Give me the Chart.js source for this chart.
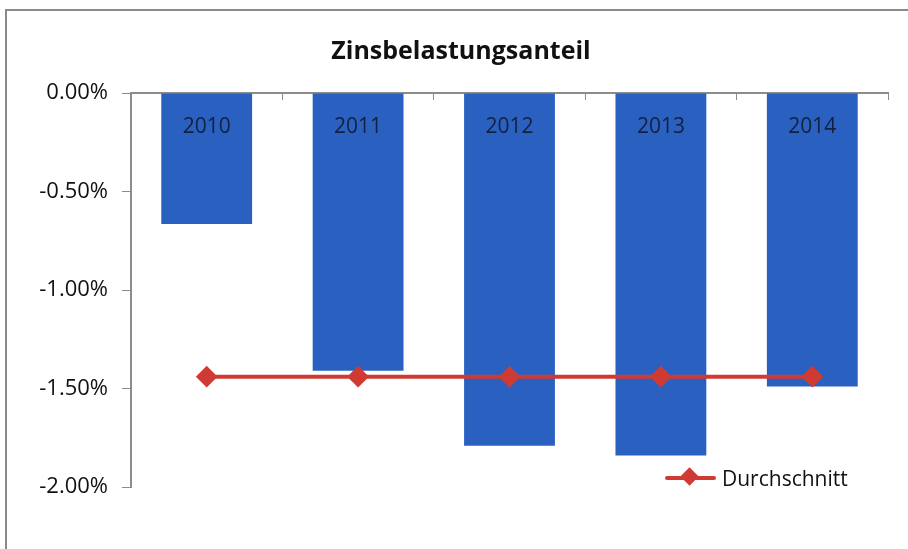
<!DOCTYPE html>
<html>
<head>
<meta charset="utf-8">
<script src="https://cdn.jsdelivr.net/npm/chart.js@4/dist/chart.umd.min.js"></script>
<style>
	html, body { margin: 0; padding: 0; background: #fff; }
	.wrapper { position: relative; width: 908px; height: 549px; overflow: hidden; }
	.frame { position: absolute; left: 5px; top: 9px; width: 920px; height: 560px; border: 2px solid #8a8a8a; box-sizing: border-box; pointer-events: none; }
	.chart-legend { position: absolute; left: 665px; top: 464px; display: flex; align-items: center; font-family: "Open Sans", sans-serif; font-size: 21px; color: #111; }
	.chart-legend .mark { position: relative; width: 51px; height: 4px; margin-right: 6px; }
	.chart-legend .mark .ln { position: absolute; left: 0; top: 0; width: 51px; height: 4px; border-radius: 2px; }
	.chart-legend .mark .dm { position: absolute; left: 18px; top: -6px; width: 13px; height: 13px; transform: rotate(45deg); }
</style>
</head>
<body>
<div class="wrapper">
	<canvas id="zins-chart" width="908" height="549"></canvas>
	<div class="frame"></div>
	<div class="chart-legend"></div>
</div>
<script>
var chartTitle = "Zinsbelastungsanteil";
var jahre = ["2010", "2011", "2012", "2013", "2014"];
var anteil = [-0.665, -1.41, -1.79, -1.84, -1.49];
var durchschnitt = [-1.44, -1.44, -1.44, -1.44, -1.44];
var yTicks = [0, -0.5, -1, -1.5, -2];

var COLOR_BAR = "#2a61c0";
var COLOR_LINE = "#cf3b33";
var COLOR_AXIS = "#8c8c8c";
var FONT = "'Open Sans', sans-serif";

// year labels sit inside the bars, just below the zero line
var barLabels = {
	id: "barLabels",
	afterDatasetsDraw: function (chart) {
		var ctx = chart.ctx;
		var xs = chart.scales.x;
		var top = chart.chartArea.top;
		ctx.save();
		ctx.font = "21px " + FONT;
		ctx.fillStyle = "#13203f";
		ctx.textAlign = "center";
		ctx.textBaseline = "middle";
		for (var i = 0; i < jahre.length; i++) {
			ctx.fillText(jahre[i], xs.getPixelForValue(i), top + 34);
		}
		ctx.restore();
	},
};

var handleZinsChart = function () {
	const ctx = document.getElementById("zins-chart").getContext("2d");

	var datany = {
		labels: jahre,
		datasets: [
			{
				type: "line",
				label: "Durchschnitt",
				data: durchschnitt,
				borderColor: COLOR_LINE,
				backgroundColor: COLOR_LINE,
				borderWidth: 4,
				pointStyle: "rectRot",
				pointRadius: 8,
				pointHoverRadius: 8,
				order: 0,
			},
			{
				type: "bar",
				label: "Zinsbelastungsanteil",
				data: anteil,
				backgroundColor: COLOR_BAR,
				categoryPercentage: 1,
				barPercentage: 0.6,
				order: 1,
			},
		],
	};

	const myChart = new Chart(ctx, {
		type: "bar",
		data: datany,
		plugins: [barLabels],
		options: {
			responsive: false,
			animation: false,
			layout: { padding: { left: 34, right: 20, top: 0, bottom: 62 } },
			plugins: {
				legend: { display: false },
				tooltip: { enabled: false },
				title: {
					display: true,
					text: chartTitle,
					color: "#111",
					font: { family: FONT, size: 25, weight: "bold", lineHeight: 1.2 },
					padding: { top: 37, bottom: 18 },
				},
			},
			scales: {
				x: {
					position: "top",
					offset: true,
					ticks: { display: false },
					grid: { drawOnChartArea: false, tickLength: -7, color: COLOR_AXIS, offset: true },
					border: { color: COLOR_AXIS, width: 2 },
					afterFit: function (scale) { scale.height = 8; },
				},
				y: {
					min: -2,
					max: 0,
					afterBuildTicks: function (scale) {
						scale.ticks = yTicks.map(function (v) { return { value: v }; });
					},
					ticks: {
						color: "#111",
						padding: 14,
						font: { family: FONT, size: 22 },
						callback: function (v) { return Number(v).toFixed(2) + "%"; },
					},
					grid: { drawOnChartArea: false, tickLength: 9, color: COLOR_AXIS },
					border: { color: COLOR_AXIS, width: 2 },
					afterFit: function (scale) { scale.width = 97; },
				},
			},
		},
	});

	// legend only for the average line
	var ds = datany.datasets[0];
	document.querySelector(".chart-legend").innerHTML =
		'<span class="mark"><span class="ln" style="background:' + ds.borderColor + '"></span>' +
		'<span class="dm" style="background:' + ds.backgroundColor + '"></span></span>' +
		'<span>' + ds.label + '</span>';

	return myChart;
};

handleZinsChart();
</script>
</body>
</html>
